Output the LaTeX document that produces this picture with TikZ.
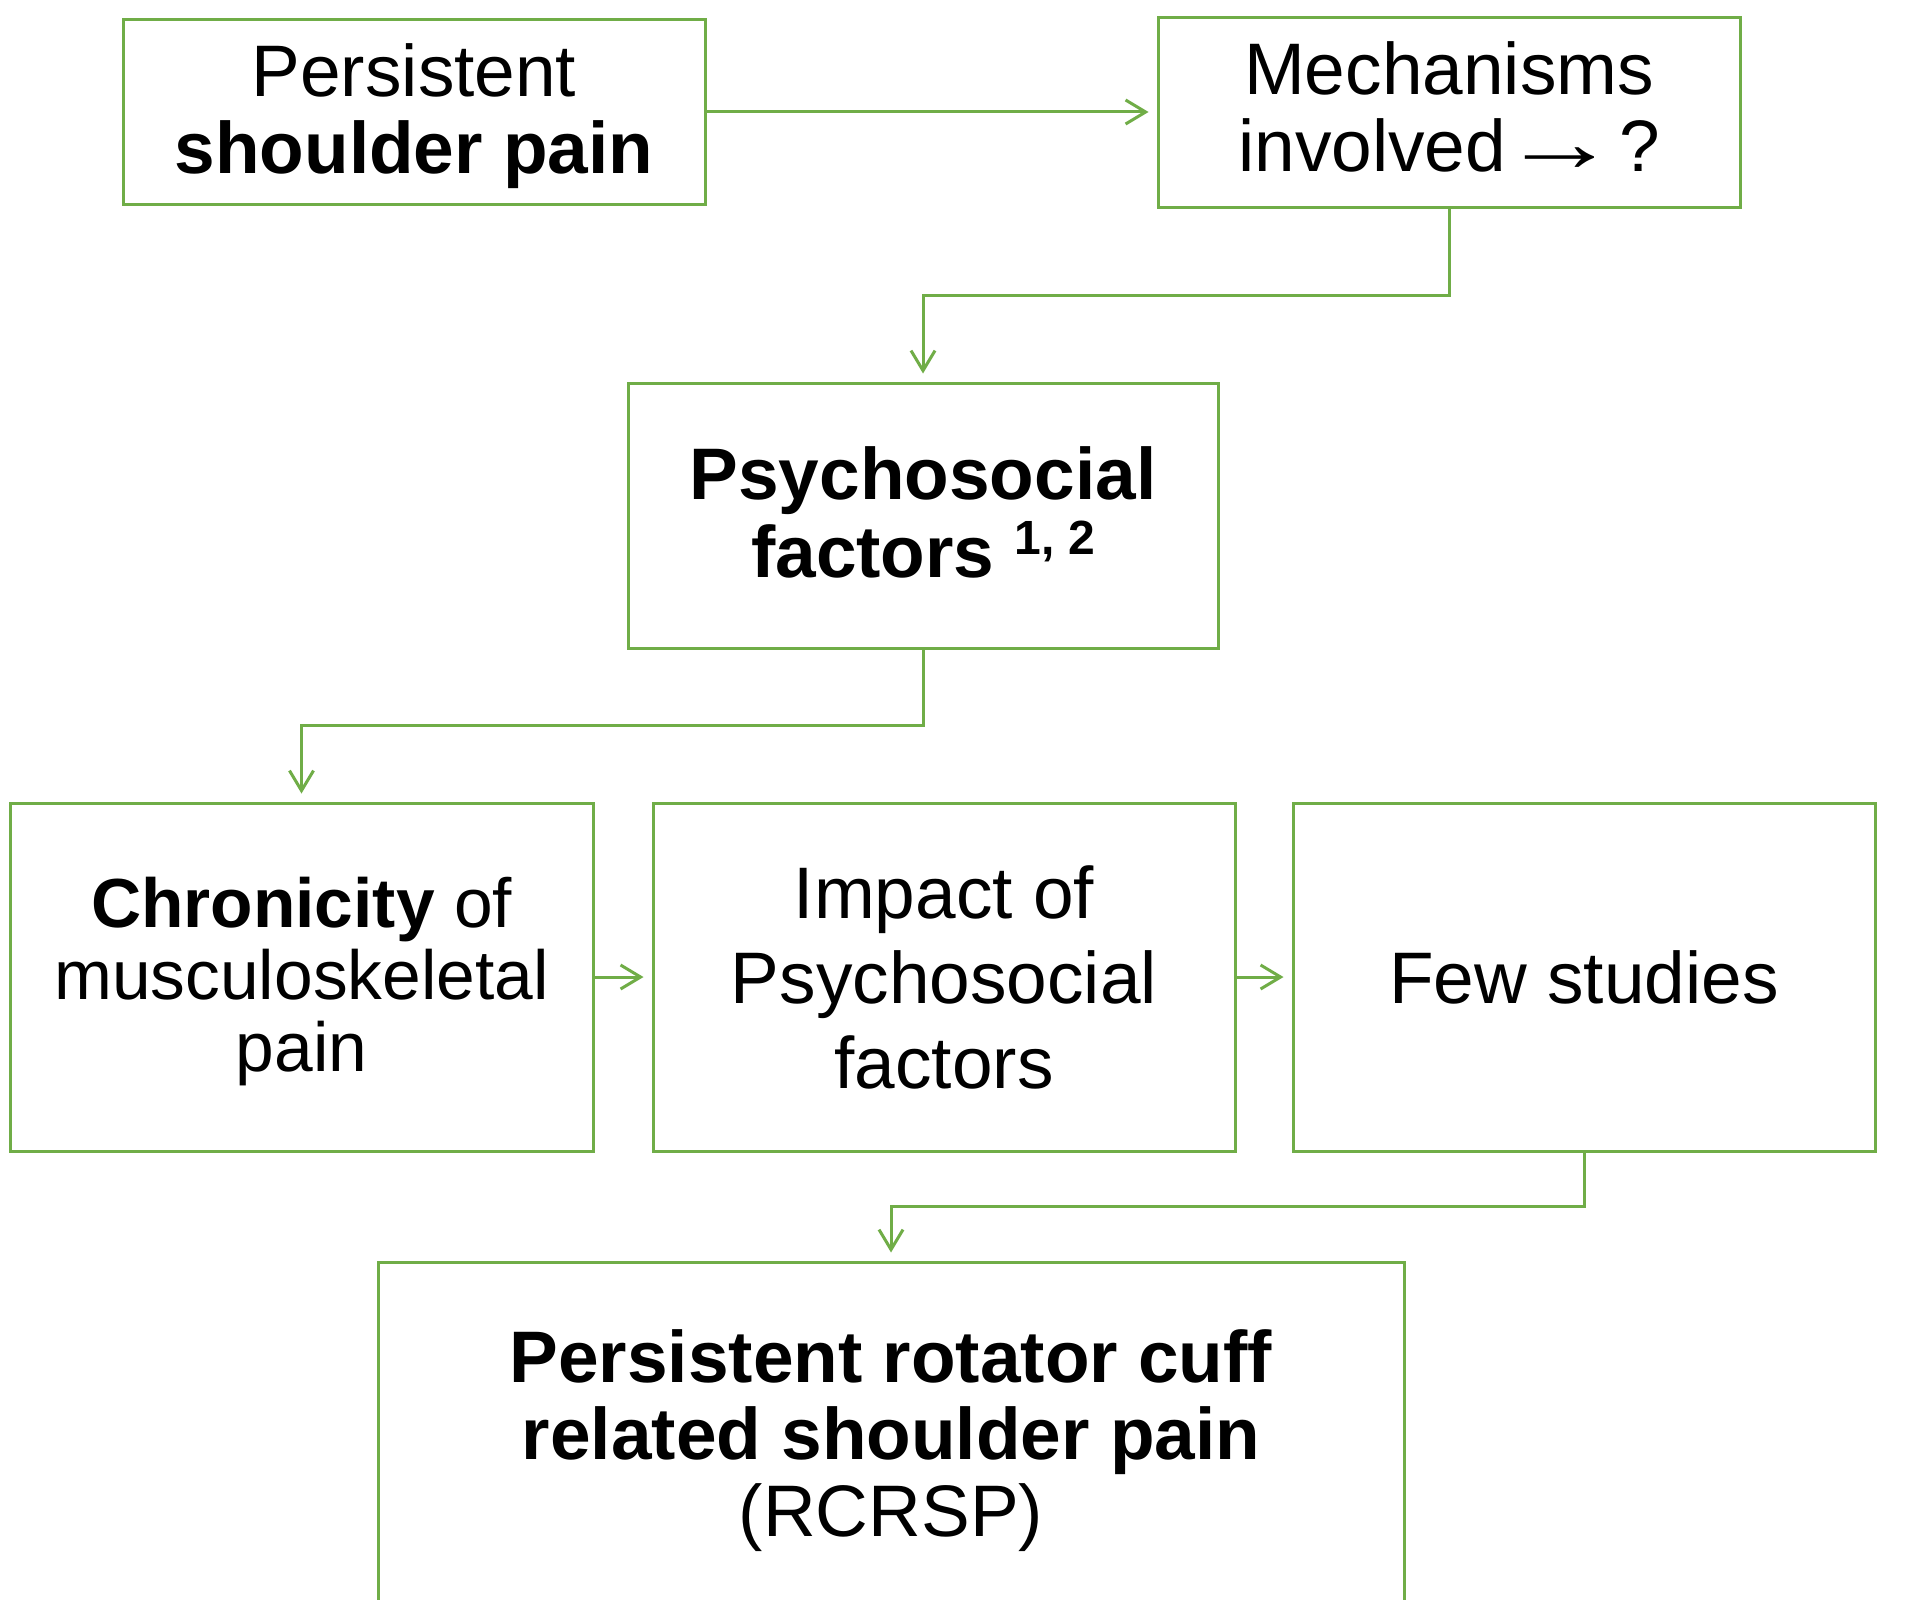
\documentclass[tikz,border=0pt]{standalone}
\usepackage{fontspec}
\setmainfont{Liberation Sans}
\usetikzlibrary{arrows.meta,calc}
\definecolor{pgreen}{RGB}{112,173,71}
\newcommand\topstrut[1]{\rule{0pt}{#1}}
\newcommand\botstrut[1]{\rule[-#1]{0pt}{#1}}
\newcommand\thinarrow{\scalebox{1.6}[1.15]{→}}
\begin{document}
\begin{tikzpicture}[x=1pt,y=-1pt,
  box/.style={draw=pgreen, line width=3pt, rectangle, inner sep=0pt, align=center, text=black,
    font=\fontsize{73}{77}\selectfont},
  conn/.style={draw=pgreen, line width=3pt, -{Straight Barb[length=20pt,width=24pt]}, shorten >=8pt}]
\clip (0,0) rectangle (1909,1600);
\fill[white] (0,0) rectangle (1909,1600);

\node[box, minimum width=582pt, minimum height=184pt] (pers) at (414,112)
  {\topstrut{62pt}Persistent\\\textbf{shoulder pain}};
\node[box, minimum width=582pt, minimum height=189pt, font=\fontsize{73}{77}\selectfont] (mech) at (1449,112.5)
  {Mechanisms\\involved\kern-5pt\thinarrow\kern1pt?\botstrut{11pt}};
\node[box, minimum width=590pt, minimum height=265pt, font=\fontsize{73}{78}\selectfont\bfseries] (psy) at (923,515.5)
  {Psychosocial\\factors \raisebox{23pt}{\fontsize{48}{48}\selectfont 1, 2}\botstrut{6pt}};
\node[box, minimum width=583pt, minimum height=348pt, font=\fontsize{69.5}{72}\selectfont] (chron) at (301.5,977)
  {\topstrut{59pt}\textbf{Chronicity} of\\musculoskeletal\\pain};
\node[box, minimum width=582pt, minimum height=348pt, font=\fontsize{73}{85}\selectfont] (impact) at (944,977)
  {Impact of\\Psychosocial\\factors};
\node[box, minimum width=582pt, minimum height=348pt] (few) at (1584,977)
  {Few studies};
\node[box, minimum width=1026pt, minimum height=358pt] (rcrsp) at (891,1441)
  {\textbf{Persistent rotator cuff}\\\textbf{related shoulder pain}\\(RCRSP)};

\draw[conn] (pers.east) -- (mech.west |- pers.east);
\draw[conn] (mech.south) -- ($(mech.south)!0.5!(mech.south|-psy.north)$) -| (psy.north);
\draw[conn] (psy.south) -- ($(psy.south)!0.5!(psy.south|-chron.north)$) -| (chron.north);
\draw[conn] (chron.east) -- (impact.west);
\draw[conn] (impact.east) -- (few.west);
\draw[conn] (few.south) -- ($(few.south)!0.5!(few.south|-rcrsp.north)$) -| (rcrsp.north);
\end{tikzpicture}
\end{document}
